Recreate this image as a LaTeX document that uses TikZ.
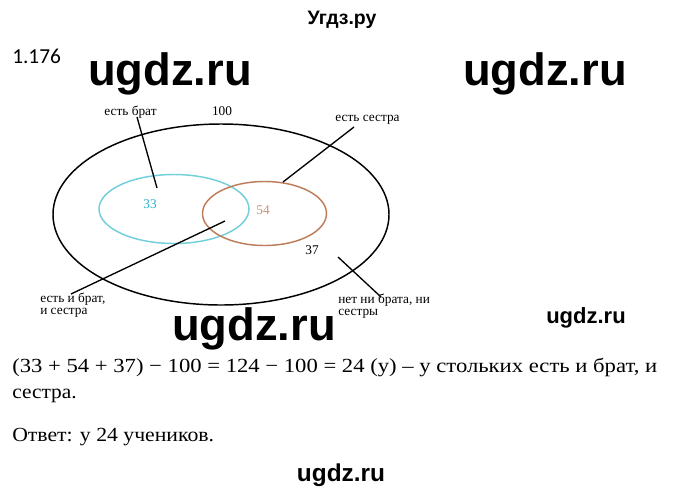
\documentclass[tikz,border=0pt]{standalone}
\usepackage{fontspec}
\setmainfont{Liberation Serif}
\newfontfamily\wmfont{Liberation Sans}
\newfontfamily\calfont{Carlito}
\definecolor{bluec}{HTML}{73CFDA}
\definecolor{bluet}{HTML}{2BB0C9}
\definecolor{orangec}{HTML}{BE7D5A}
\definecolor{oranget}{HTML}{C69272}
\tikzset{
  lbl/.style={inner sep=0pt, font=\fontsize{10}{12}\selectfont},
  wmbig/.style={inner sep=0pt, font=\wmfont\bfseries\fontsize{34}{40}\selectfont},
  body/.style={inner sep=0pt, anchor=west, font=\fontsize{15}{18}\selectfont},
  conn/.style={line width=1pt, black},
}
\begin{document}
\begin{tikzpicture}[x=0.75pt,y=-0.75pt]
\useasboundingbox[fill=white] (0,0) rectangle (680,493);
% header
\node[inner sep=0pt, font=\wmfont\bfseries\fontsize{14.6}{17}\selectfont] (hdr) at (342,20) {Угдз.ру};
\node[inner sep=0pt, anchor=west, font=\calfont\fontsize{16}{19}\selectfont] (num) at (12,56) {1.176};
% watermarks
\node[wmbig] (wm1) at (170,74) {ugdz.ru};
\node[wmbig] (wm2) at (545,74) {ugdz.ru};
\node[wmbig] (wm3) at (254,329) {ugdz.ru};
\node[inner sep=0pt, font=\wmfont\bfseries\fontsize{16.5}{20}\selectfont] (wm4) at (586,318) {ugdz.ru};
\node[inner sep=0pt, font=\wmfont\bfseries\fontsize{18.3}{22}\selectfont] (wm5) at (341,475) {ugdz.ru};
% ellipses
\draw[line width=1.1pt] (221,214.5) ellipse [x radius=168, y radius=90.5];
\draw[bluec, line width=1.1pt] (174,209) ellipse [x radius=75, y radius=34.5];
\draw[orangec, line width=1.1pt] (264.5,213.5) ellipse [x radius=62, y radius=32];
% numbers
\node[lbl, text=bluet] (n33) at (150,204) {33};
\node[lbl, text=oranget] (n54) at (263,210) {54};
\node[lbl] (n37) at (312,250) {37};
\node[lbl] (n100) at (222,111) {100};
% labels
\node[lbl] (brat) at (130.5,112) {есть брат};
\node[lbl] (sestra) at (367.5,120) {есть сестра};
\node[lbl, anchor=west] (both1) at (40,299) {есть и брат,};
\node[lbl, anchor=west] (both2) at (40,313) {и сестра};
\node[lbl, anchor=west] (none1) at (338,300) {нет ни брата, ни};
\node[lbl, anchor=west] (none2) at (338,314) {сестры};
% connector ends
\coordinate (b1) at (137,117);  \coordinate (b2) at (157,188);
\coordinate (s1) at (354,127);  \coordinate (s2) at (283,182);
\coordinate (i1) at (225,221);  \coordinate (i2) at (71,294);
\coordinate (k1) at (338,257);  \coordinate (k2) at (381,297);
\draw[conn] (b1) -- (b2);
\draw[conn] (s1) -- (s2);
\draw[conn] (i1) -- (i2);
\draw[conn] (k1) -- (k2);
% body text
\node[body] (l1) at (12,367) {\scalebox{1.133}[1]{(33 + 54 + 37) − 100 = 124 − 100 = 24 (у) – у стольких есть и брат, и}};
\node[body] (l2) at (12,396) {\scalebox{1.07}[1]{сестра.}};
\node[body] (l3) at (12,437) {\scalebox{1.086}[1]{Ответ: у 24 учеников.}};
\end{tikzpicture}
\end{document}
